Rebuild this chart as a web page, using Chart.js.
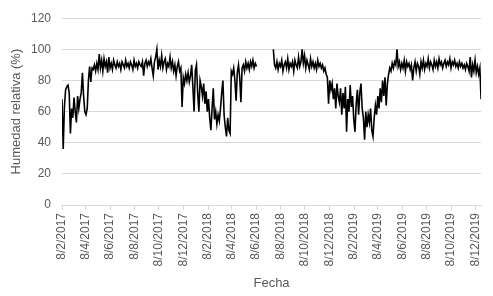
<!DOCTYPE html>
<html>
<head>
<meta charset="utf-8">
<script src="https://cdn.jsdelivr.net/npm/chart.js@4/dist/chart.umd.min.js"></script>
<style>
html,body{margin:0;padding:0;background:#fff;}
#wrap{width:493px;height:296px;position:relative;}
</style>
</head>
<body>
<div id="wrap"><canvas id="c" width="493" height="296"></canvas></div>
<script>
// Fecha inicial de la serie (8/2/2017) y paso entre valores (días)
const fechaInicio = '8/2/2017';
const pasoDias = 3;

// Etiquetas del eje X (d/m/aaaa)
const tickLabels = ['8/2/2017','8/4/2017','8/6/2017','8/8/2017','8/10/2017','8/12/2017',
  '8/2/2018','8/4/2018','8/6/2018','8/8/2018','8/10/2018','8/12/2018',
  '8/2/2019','8/4/2019','8/6/2019','8/8/2019','8/10/2019','8/12/2019'];
const yTicks = [0, 20, 40, 60, 80, 100, 120];

// Tramo 1: desde 8/2/2017 (cada 3 días)
const tramo1Inicio = '8/2/2017';
const humedadTramo1 = [
  68, 36, 63, 74, 76, 77, 72, 46, 62, 56,
  69, 60, 53, 70, 62, 68, 72, 85, 70, 60,
  58, 62, 80, 89, 79, 88, 87, 90, 86, 91,
  87, 97, 88, 93, 86, 94, 89, 92, 85, 95,
  88, 91, 87, 93, 90, 88, 92, 89, 91, 87,
  92, 90, 88, 93, 89, 91, 88, 92, 90, 87,
  93, 89, 91, 88, 92, 90, 89, 92, 83, 91,
  93, 89, 92, 90, 94, 88, 83, 92, 95, 100,
  87, 93, 89, 96, 88, 92, 94, 87, 91, 89,
  95, 88, 92, 86, 90, 83, 89, 92, 86, 88,
  63, 82, 78, 84, 80, 85, 79, 83, 90, 76,
  60, 86, 90, 72, 60, 80, 76, 70, 78, 65,
  73, 60, 68, 56, 48, 62, 75, 55, 60, 52,
  58, 54, 62, 72, 80, 58, 50, 44, 56, 48,
  46, 86, 84, 88, 80, 67, 85, 90, 82, 66,
  88, 90, 86, 92, 88, 91, 87, 92, 89, 93,
  88, 91, 89
];

// Tramo 2: desde 21/7/2018 (cada 3 días)
const tramo2Inicio = '21/7/2018';
const humedadTramo2 = [
  100, 90, 88, 92, 87, 91, 89, 93, 86, 90,
  92, 88, 94, 87, 91, 89, 92, 86, 93, 90,
  88, 95, 89, 92, 100, 91, 96, 88, 93, 90,
  87, 94, 89, 92, 88, 91, 87, 93, 89, 91,
  88, 90, 86, 88, 84, 82, 65, 80, 74, 78,
  68, 75, 62, 78, 70, 66, 75, 58, 72, 62,
  76, 47, 68, 60, 77, 63, 70, 55, 47, 65,
  74, 58, 72, 78, 62, 56, 42, 60, 50, 58,
  53, 62, 48, 44, 56, 64, 58, 70, 62, 75,
  66, 80, 70, 82, 64, 78, 84, 88, 86, 91,
  88, 92, 90, 100, 89, 92, 87, 91, 88, 93,
  86, 92, 89, 91, 87, 90, 80, 88, 92, 86,
  91, 89, 84, 92, 88, 93, 87, 91, 89, 94,
  88, 92, 90, 87, 93, 89, 92, 88, 94, 90,
  92, 88, 91, 93, 89, 92, 90, 94, 88, 92,
  90, 93, 89, 91, 88, 92, 89, 91, 88, 90,
  87, 91, 89, 86, 95, 82, 90, 86, 93, 85,
  89, 84, 88, 68
];

function dias(label) {
  const [d, m, y] = label.split('/').map(Number);
  const [d0, m0, y0] = fechaInicio.split('/').map(Number);
  return Math.round((Date.UTC(y, m - 1, d) - Date.UTC(y0, m0 - 1, d0)) / 86400000);
}
function puntos(inicio, valores) {
  const s = dias(inicio);
  return valores.map((v, i) => ({ x: s + i * pasoDias, y: v }));
}
const datos = puntos(tramo1Inicio, humedadTramo1)
  .concat([{ x: dias(tramo1Inicio) + humedadTramo1.length * pasoDias, y: null }])
  .concat(puntos(tramo2Inicio, humedadTramo2));
const xMax = datos[datos.length - 1].x;
const tickPos = tickLabels.map(dias);

const gris = '#595959';
const rejilla = '#d9d9d9';
const fuente = 'Liberation Sans, Arial, sans-serif';

new Chart(document.getElementById('c'), {
  type: 'line',
  data: {
    datasets: [{
      data: datos,
      borderColor: '#000000',
      borderWidth: 1.6,
      pointRadius: 0,
      tension: 0,
      spanGaps: false,
      fill: false
    }]
  },
  options: {
    responsive: false,
    animation: false,
    events: [],
    layout: { padding: { top: 10, right: 11, left: 0, bottom: 0 } },
    plugins: { legend: { display: false }, tooltip: { enabled: false } },
    scales: {
      x: {
        type: 'linear',
        min: 0,
        max: xMax,
        afterBuildTicks: (scale) => { scale.ticks = tickPos.map(v => ({ value: v })); },
        afterFit: (scale) => { scale.height = 91; },
        ticks: {
          autoSkip: false,
          minRotation: 90,
          maxRotation: 90,
          padding: 3,
          color: gris,
          font: { family: fuente, size: 12 },
          callback: (v) => { const k = tickPos.indexOf(v); return k >= 0 ? tickLabels[k] : ''; }
        },
        grid: { drawOnChartArea: false, drawTicks: true, tickLength: 5, color: rejilla },
        border: { color: rejilla, width: 1 },
        title: { display: true, text: 'Fecha', color: gris, font: { family: fuente, size: 13 }, padding: { top: 0, bottom: 5 } }
      },
      y: {
        min: 0,
        max: 120,
        afterBuildTicks: (scale) => { scale.ticks = yTicks.map(v => ({ value: v })); },
        afterFit: (scale) => { scale.width = 62; },
        ticks: { padding: 11, color: gris, font: { family: fuente, size: 12 } },
        grid: { color: rejilla, lineWidth: 1, drawTicks: false },
        border: { display: false },
        title: { display: true, text: 'Humedad relativa (%)', color: gris, font: { family: fuente, size: 13 }, padding: { top: 9, bottom: 0 } }
      }
    }
  }
});
</script>
</body>
</html>
